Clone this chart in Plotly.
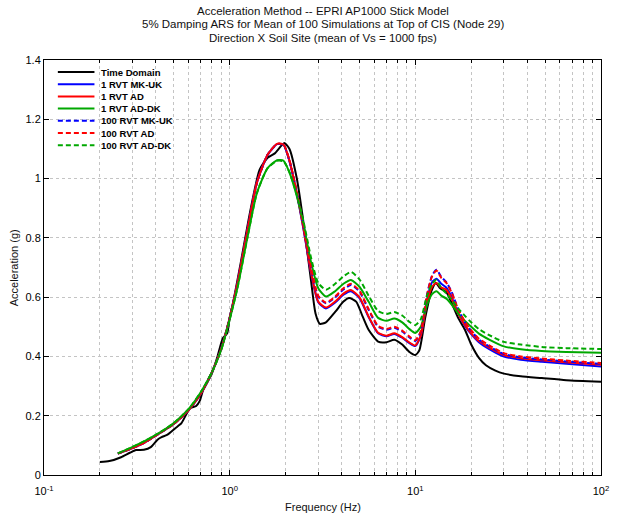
import plotly.graph_objects as go

# Frequencies (Hz) at which the RVT spectra are tabulated
freq_rvt = [0.25, 0.3, 0.35, 0.4, 0.45, 0.5, 0.6, 0.7, 0.8, 0.9, 1.0, 1.1, 1.25, 1.4, 1.6, 1.8,
            1.95, 2.1, 2.3, 2.5, 2.75, 3.0, 3.3, 3.7, 4.1, 4.5, 5.0, 5.6, 6.3, 7.0, 7.7, 8.5,
            9.3, 10.0, 10.7, 11.5, 12.3, 13.0, 13.8, 14.7, 15.7, 17.0, 18.5, 20.0, 22.0, 25.0,
            30.0, 37.0, 48.0, 65.0, 100.0]

# Spectral acceleration (g), 1 RVT runs
rvt1_mkuk = [0.072, 0.091, 0.110, 0.133, 0.153, 0.172, 0.218, 0.275, 0.345, 0.425, 0.530, 0.645,
             0.830, 0.985, 1.080, 1.116, 1.114, 1.058, 0.948, 0.828, 0.678, 0.583, 0.562, 0.582,
             0.608, 0.620, 0.597, 0.533, 0.478, 0.468, 0.476, 0.463, 0.445, 0.435, 0.470, 0.585,
             0.650, 0.662, 0.645, 0.632, 0.600, 0.545, 0.503, 0.475, 0.448, 0.425, 0.400, 0.389,
             0.382, 0.375, 0.366]
rvt1_ad = [0.072, 0.091, 0.110, 0.133, 0.153, 0.172, 0.218, 0.275, 0.345, 0.425, 0.530, 0.645,
           0.830, 0.985, 1.080, 1.117, 1.115, 1.060, 0.950, 0.830, 0.680, 0.585, 0.565, 0.585,
           0.612, 0.624, 0.600, 0.535, 0.480, 0.470, 0.478, 0.465, 0.447, 0.437, 0.470, 0.575,
           0.635, 0.648, 0.632, 0.625, 0.595, 0.545, 0.505, 0.478, 0.452, 0.430, 0.405, 0.394,
           0.387, 0.380, 0.372]
rvt1_addk = [0.073, 0.095, 0.115, 0.135, 0.155, 0.175, 0.222, 0.280, 0.345, 0.422, 0.525, 0.630,
             0.805, 0.950, 1.035, 1.062, 1.060, 1.020, 0.940, 0.845, 0.715, 0.630, 0.602, 0.620,
             0.645, 0.658, 0.635, 0.585, 0.530, 0.520, 0.528, 0.515, 0.492, 0.479, 0.500, 0.570,
             0.610, 0.620, 0.605, 0.595, 0.575, 0.545, 0.520, 0.500, 0.477, 0.457, 0.434, 0.424,
             0.418, 0.415, 0.412]

# Spectral acceleration (g), 100 RVT runs
rvt100_mkuk = [0.072, 0.091, 0.110, 0.133, 0.153, 0.172, 0.218, 0.275, 0.345, 0.425, 0.530, 0.645,
               0.830, 0.985, 1.080, 1.116, 1.114, 1.060, 0.953, 0.836, 0.693, 0.602, 0.579, 0.599,
               0.626, 0.641, 0.619, 0.557, 0.500, 0.490, 0.497, 0.484, 0.464, 0.452, 0.484, 0.602,
               0.672, 0.692, 0.668, 0.650, 0.617, 0.560, 0.515, 0.486, 0.457, 0.434, 0.408, 0.397,
               0.390, 0.383, 0.375]
rvt100_ad = [0.072, 0.091, 0.110, 0.133, 0.153, 0.172, 0.218, 0.275, 0.345, 0.425, 0.530, 0.645,
             0.830, 0.985, 1.080, 1.117, 1.115, 1.062, 0.955, 0.838, 0.695, 0.605, 0.582, 0.602,
             0.630, 0.645, 0.622, 0.560, 0.503, 0.493, 0.500, 0.487, 0.467, 0.455, 0.485, 0.600,
             0.670, 0.690, 0.665, 0.648, 0.615, 0.560, 0.517, 0.488, 0.460, 0.437, 0.411, 0.400,
             0.393, 0.386, 0.378]
rvt100_addk = [0.073, 0.095, 0.115, 0.135, 0.155, 0.175, 0.222, 0.280, 0.345, 0.422, 0.525, 0.630,
               0.805, 0.950, 1.035, 1.060, 1.058, 1.022, 0.945, 0.855, 0.730, 0.648, 0.625, 0.645,
               0.670, 0.685, 0.660, 0.605, 0.553, 0.543, 0.550, 0.538, 0.516, 0.506, 0.525, 0.600,
               0.645, 0.658, 0.630, 0.612, 0.590, 0.562, 0.537, 0.515, 0.492, 0.472, 0.449, 0.440,
               0.432, 0.428, 0.425]

# Time-domain mean spectrum
freq_td = [0.2, 0.225, 0.26, 0.29, 0.313, 0.345, 0.376, 0.41, 0.43, 0.46, 0.51, 0.55, 0.59, 0.615,
           0.66, 0.69, 0.72, 0.8, 0.86, 0.92, 0.97, 1.0, 1.05, 1.15, 1.3, 1.45, 1.6, 1.75, 1.97,
           2.1, 2.3, 2.5, 2.75, 2.9, 3.06, 3.3, 3.7, 4.1, 4.4, 4.8, 5.2, 5.6, 6.3, 7.0, 7.7, 8.5,
           9.3, 10.0, 10.5, 11.3, 12.2, 12.9, 13.6, 14.7, 15.7, 17.0, 18.5, 20.0, 22.0, 24.0,
           27.0, 30.0, 37.0, 48.0, 65.0, 100.0]
time_domain = [0.044, 0.047, 0.060, 0.075, 0.084, 0.085, 0.094, 0.120, 0.128, 0.135, 0.158, 0.175,
               0.210, 0.226, 0.233, 0.250, 0.287, 0.340, 0.400, 0.462, 0.478, 0.530, 0.590, 0.720,
               0.900, 1.030, 1.070, 1.085, 1.120, 1.100, 1.000, 0.850, 0.650, 0.545, 0.510, 0.515,
               0.550, 0.585, 0.597, 0.585, 0.535, 0.490, 0.450, 0.448, 0.456, 0.440, 0.415, 0.405,
               0.420, 0.530, 0.620, 0.648, 0.630, 0.617, 0.580, 0.530, 0.490, 0.440, 0.395, 0.370,
               0.352, 0.342, 0.333, 0.327, 0.320, 0.315]

x_tickvals = [0.1, 1, 10, 100]
x_ticktext = ["10<sup>-1</sup>", "10<sup>0</sup>", "10<sup>1</sup>", "10<sup>2</sup>"]
y_tickvals = [0, 0.2, 0.4, 0.6, 0.8, 1.0, 1.2, 1.4]

title_lines = [
    "Acceleration Method -- EPRI AP1000 Stick Model",
    "5% Damping ARS for Mean of 100 Simulations at Top of CIS (Node 29)",
    "Direction X Soil Site (mean of Vs = 1000 fps)",
]

GREEN = "#00a800"
DASH = "5px,3px"
series = [
    ("Time Domain", freq_td, time_domain, "black", "solid"),
    ("1 RVT MK-UK", freq_rvt, rvt1_mkuk, "blue", "solid"),
    ("1 RVT AD", freq_rvt, rvt1_ad, "red", "solid"),
    ("1 RVT AD-DK", freq_rvt, rvt1_addk, GREEN, "solid"),
    ("100 RVT MK-UK", freq_rvt, rvt100_mkuk, "blue", DASH),
    ("100 RVT AD", freq_rvt, rvt100_ad, "red", DASH),
    ("100 RVT AD-DK", freq_rvt, rvt100_addk, GREEN, DASH),
]

W, H = 621, 519
L, R, T, B = 44, 14, 60, 44
PW, PH = W - L - R, H - T - B


def px(x):
    return (x - L) / PW


def py(y):
    return (H - B - y) / PH


FONT = "Liberation Sans, Arial, sans-serif"

fig = go.Figure()
for name, fx, fy, color, dash in series:
    fig.add_trace(go.Scatter(
        x=fx, y=fy, name=name, mode="lines",
        line=dict(color=color, width=2, dash=dash, shape="spline", smoothing=0.6),
        showlegend=False,
    ))

minor_vals = [m * 10 ** e for e in (-1, 0, 1) for m in range(2, 10)]

fig.update_xaxes(
    type="log", range=[-1, 2],
    tickvals=x_tickvals, ticktext=x_ticktext,
    ticks="inside", ticklen=5, tickcolor="black", tickwidth=1,
    ticklabelstandoff=6,
    showline=True, linecolor="black", linewidth=1, mirror="allticks",
    showgrid=True, gridcolor="#c4c4c4", griddash="dot", gridwidth=1,
    minor=dict(tickvals=minor_vals, ticks="inside", ticklen=3, tickcolor="black",
               showgrid=True, gridcolor="#c4c4c4", griddash="dot", gridwidth=1),
    tickfont=dict(family=FONT, size=11, color="black"),
    zeroline=False,
)
fig.update_yaxes(
    range=[0, 1.4], tickvals=y_tickvals,
    ticks="inside", ticklen=5, tickcolor="black",
    showline=True, linecolor="black", linewidth=1, mirror="allticks",
    showgrid=True, gridcolor="#c4c4c4", griddash="dot", gridwidth=1,
    tickfont=dict(family=FONT, size=11, color="black"),
    zeroline=False,
)

annotations = []
for i, line in enumerate(title_lines):
    annotations.append(dict(
        x=0.5, y=py(11 + 13.5 * i), xref="paper", yref="paper",
        text=line, showarrow=False, xanchor="center", yanchor="middle",
        font=dict(family=FONT, size=11.5, color="#111"),
    ))
annotations.append(dict(
    x=0.5, y=py(507), xref="paper", yref="paper", text="Frequency (Hz)",
    showarrow=False, xanchor="center", yanchor="middle",
    font=dict(family=FONT, size=11, color="#111"),
))
annotations.append(dict(
    x=px(14), y=py(268), xref="paper", yref="paper", text="Acceleration (g)",
    showarrow=False, xanchor="center", yanchor="middle", textangle=-90,
    font=dict(family=FONT, size=11, color="#111"),
))

# Legend: white panel, line samples and labels
shapes = [dict(type="rect", xref="paper", yref="paper", layer="between",
               x0=px(47), x1=px(205), y0=py(152), y1=py(62),
               fillcolor="white", line=dict(width=0))]
for i, (name, _, _, color, dash) in enumerate(series):
    yy = py(72 + 12.2 * i)
    shapes.append(dict(type="line", xref="paper", yref="paper", layer="above",
                       x0=px(58), x1=px(95), y0=yy, y1=yy,
                       line=dict(color=color, width=2, dash=dash)))
    annotations.append(dict(
        x=px(100), y=yy, xref="paper", yref="paper", text="<b>%s</b>" % name,
        showarrow=False, xanchor="left", yanchor="middle",
        font=dict(family=FONT, size=9.5, color="black"),
    ))

fig.update_layout(
    width=W, height=H,
    margin=dict(l=L, r=R, t=T, b=B),
    paper_bgcolor="white", plot_bgcolor="white",
    showlegend=False,
    annotations=annotations, shapes=shapes,
)

fig.write_html("out.html")
